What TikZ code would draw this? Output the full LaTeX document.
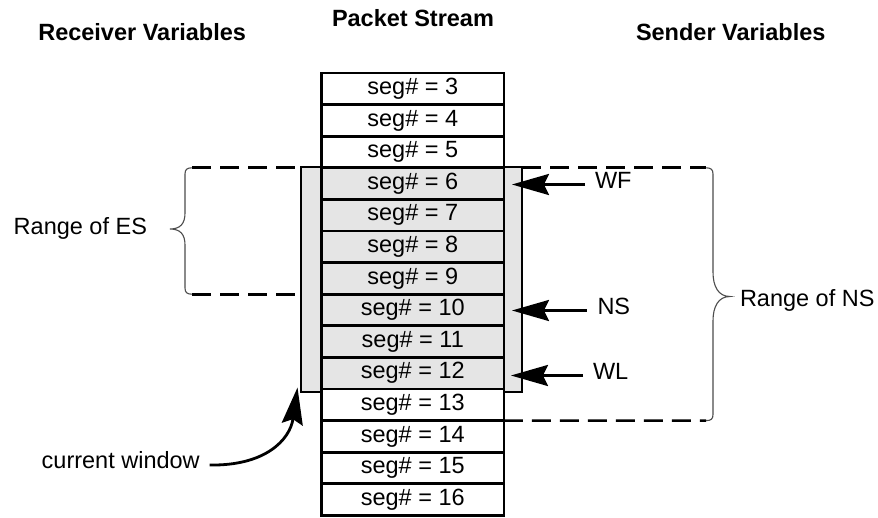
\documentclass[tikz,border=0pt]{standalone}
\usepackage{fontspec}
\setmainfont{Liberation Sans}
\usetikzlibrary{arrows.meta}
\begin{document}
\begin{tikzpicture}[x=1pt,y=-1pt,
  every node/.style={font=\fontsize{23.5}{28}\selectfont, inner sep=0pt, outer sep=0pt},
  cell/.style={draw, line width=2.8pt, minimum width=182.3pt, minimum height=31.6pt, fill=white},
  wincell/.style={cell, fill=none},
  hdr/.style={font=\fontsize{23.5}{28}\selectfont\bfseries},
  lbl/.style={text height=0.716em, text depth=0pt},
  dashline/.style={line width=2.7pt, dash pattern=on 19pt off 9pt},
  braceline/.style={line width=1.1pt, draw=black!70},
  ptr/.style={line width=2.8pt, -{Stealth[length=37pt, width=21pt, inset=5pt]}},
  winbox/.style={draw, line width=1.5pt, fill=gray!20}
]
\useasboundingbox (0,0) rectangle (878,518);

% headers
\node[hdr, anchor=base west] (hr) at (38.3,40.7) {Receiver Variables};
\node[hdr, anchor=base west] (hp) at (332,26.7) {Packet Stream};
\node[hdr, anchor=base west] (hs) at (636,40.7) {Sender Variables};

% current window
\node[winbox, minimum width=221pt, minimum height=225pt] (win) at (411.5,279.5) {};

% packet cells
\foreach \k in {3,...,16}{
  \pgfmathsetmacro{\yy}{73+31.6*(\k-3)+15.8}
  \ifnum\k<6
    \node[cell] (s\k) at (412.8,\yy) {seg\# = \k};
  \else\ifnum\k>12
    \node[cell] (s\k) at (412.8,\yy) {seg\# = \k};
  \else
    \node[wincell] (s\k) at (412.8,\yy) {seg\# = \k};
  \fi\fi
}

% left range (ES)
\coordinate (lt) at (192,167.8);
\coordinate (lb) at (192,294.2);
\draw[dashline] (lt) -- (lt -| win.west);
\draw[dashline] (lb) -- (lb -| win.west);
\draw[braceline] (lt) .. controls (187,167.8) and (185,169.5) .. (185,174)
  -- (185,213) .. controls (185,224) and (180,229) .. (170,229)
  .. controls (180,229) and (185,234) .. (185,245)
  -- (185,288) .. controls (185,292.5) and (187,294.2) .. (lb);
\node[anchor=base east] (res) at (147,235) {Range of ES};

% right range (NS)
\coordinate (rt) at (706,167.8);
\coordinate (rb) at (706,420.6);
\draw[dashline] (win.east |- rt) -- (rt);
\draw[dashline] (s13.south east) -- (rb);
\draw[braceline] (rt) .. controls (711,167.8) and (713,169.5) .. (713,174)
  -- (713,272) .. controls (713,286) and (718,296.5) .. (730,296.5)
  .. controls (718,296.5) and (713,307) .. (713,321)
  -- (713,414.5) .. controls (713,419) and (711,420.6) .. (rb);
\node[anchor=base west] (rns) at (740,306.7) {Range of NS};

% sender pointers
\node[lbl, anchor=west] (wf) at (595,184.5) {WF};
\node[lbl, anchor=west] (ns) at (597.5,310.5) {NS};
\node[lbl, anchor=west] (wl) at (593,375.5) {WL};
\draw[ptr] ([xshift=-10pt]wf.west) -- ([xshift=8pt]wf.west -| s6.east);
\draw[ptr] ([xshift=-11pt]ns.west) -- ([xshift=8pt]ns.west -| s10.east);
\draw[ptr] ([xshift=-10pt]wl.west) -- ([xshift=7pt]wl.west -| s12.east);

% current window label
\node[lbl, anchor=west] (cw) at (41.7,465) {current window};
\coordinate (cwtip) at (297.5,387.5);
\draw[ptr] ([xshift=10pt]cw.east) .. controls (265,466) and (290,440) .. (cwtip);
\end{tikzpicture}
\end{document}
